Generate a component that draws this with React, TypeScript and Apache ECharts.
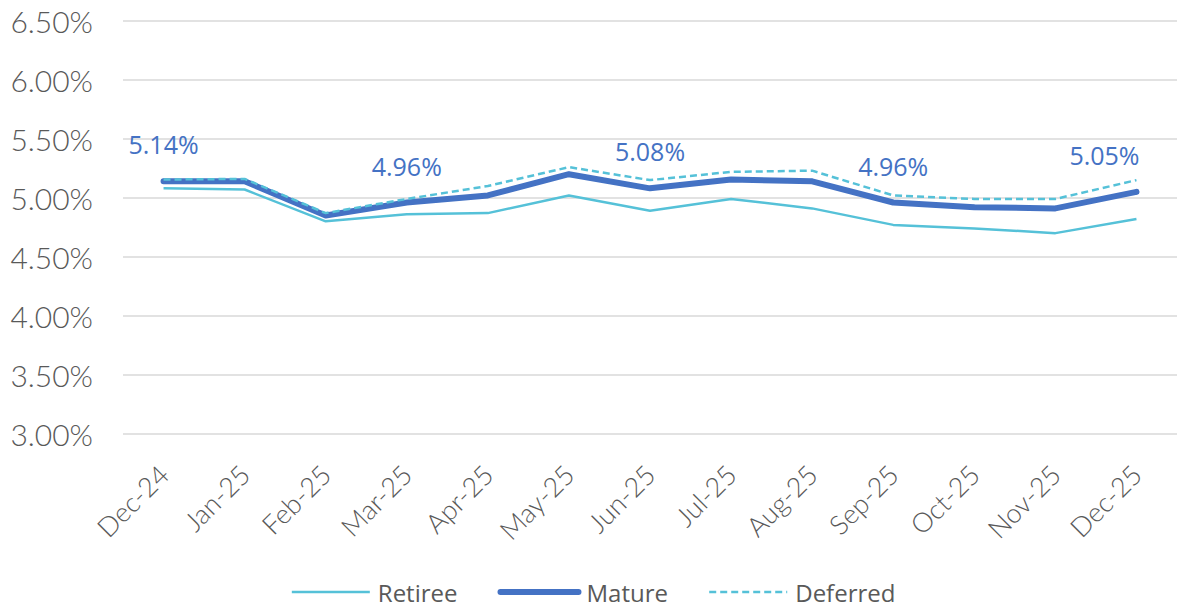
import React, { useEffect, useRef } from "react";
import * as echarts from "echarts";

const categories = ["Dec-24", "Jan-25", "Feb-25", "Mar-25", "Apr-25", "May-25", "Jun-25", "Jul-25", "Aug-25", "Sep-25", "Oct-25", "Nov-25", "Dec-25"];
const retiree = [5.08, 5.07, 4.80, 4.86, 4.87, 5.02, 4.89, 4.99, 4.91, 4.77, 4.74, 4.70, 4.82];
const mature = [5.14, 5.14, 4.85, 4.96, 5.02, 5.20, 5.08, 5.155, 5.14, 4.96, 4.92, 4.91, 5.05];
const deferred = [5.155, 5.16, 4.87, 4.99, 5.10, 5.26, 5.15, 5.22, 5.23, 5.02, 4.99, 4.99, 5.15];
const labelIndexes = [0, 3, 6, 9, 12];

const CYAN = "#55C1D8";
const BLUE = "#4472C4";

export default function App() {
  const ref = useRef<HTMLDivElement>(null);
  useEffect(() => {
    document.body.style.margin = "0";
    document.body.style.overflow = "hidden";
    if (!ref.current) return;
    const chart = echarts.init(ref.current, undefined, { renderer: "svg" });
    const matureData = mature.map((v, i) => {
      if (!labelIndexes.includes(i)) return v;
      return {
        value: v,
        label: {
          show: true,
          position: "top",
          distance: 22,
          offset: i === 12 ? [-32, 0] : [0, 0],
          formatter: (p: any) => Number(p.value).toFixed(2) + "%",
          color: BLUE,
          fontSize: 25,
          fontFamily: "Open Sans",
        },
      };
    });
    chart.setOption({
      animation: false,
      grid: { left: 123, right: 9, top: 21, bottom: 176.5 },
      legend: {
        top: 575,
        left: "center",
        itemWidth: 78,
        itemHeight: 8,
        itemGap: 40,
        itemStyle: { opacity: 0 },
        lineStyle: { width: "inherit" },
        textStyle: { color: "#595959", fontSize: 24, fontFamily: "Open Sans", padding: [0, 0, 0, 3] },
        data: ["Retiree", "Mature", "Deferred"],
      },
      xAxis: {
        type: "category",
        data: categories,
        boundaryGap: true,
        axisLine: { show: false },
        axisTick: { show: false },
        axisLabel: {
          rotate: 45,
          margin: 36,
          color: "#595959",
          fontSize: 27,
          fontFamily: "Lato",
          fontWeight: 300,
          interval: 0,
        },
      },
      yAxis: {
        type: "value",
        min: 3,
        max: 6.5,
        interval: 0.5,
        axisLine: { show: false },
        axisTick: { show: false },
        splitLine: { lineStyle: { color: "#D9D9D9", width: 1.5 } },
        axisLabel: {
          margin: 30,
          color: "#595959",
          fontSize: 30,
          fontFamily: "Lato",
          fontWeight: 300,
          formatter: (v: number) => v.toFixed(2) + "%",
        },
      },
      series: [
        {
          name: "Retiree",
          type: "line",
          data: retiree,
          symbol: "none",
          lineStyle: { color: CYAN, width: 2.5 },
          itemStyle: { color: CYAN },
          z: 2,
        },
        {
          name: "Mature",
          type: "line",
          data: matureData,
          symbol: "circle",
          symbolSize: 5,
          showSymbol: true,
          lineStyle: { color: BLUE, width: 6, cap: "round", join: "round" },
          itemStyle: { color: BLUE },
          z: 3,
        },
        {
          name: "Deferred",
          type: "line",
          data: deferred,
          symbol: "none",
          lineStyle: { color: CYAN, width: 2.5, type: [7, 4] },
          itemStyle: { color: CYAN },
          z: 4,
        },
      ],
    });
    return () => chart.dispose();
  }, []);
  return <div ref={ref} style={{ width: 1186, height: 610 }} />;
}
